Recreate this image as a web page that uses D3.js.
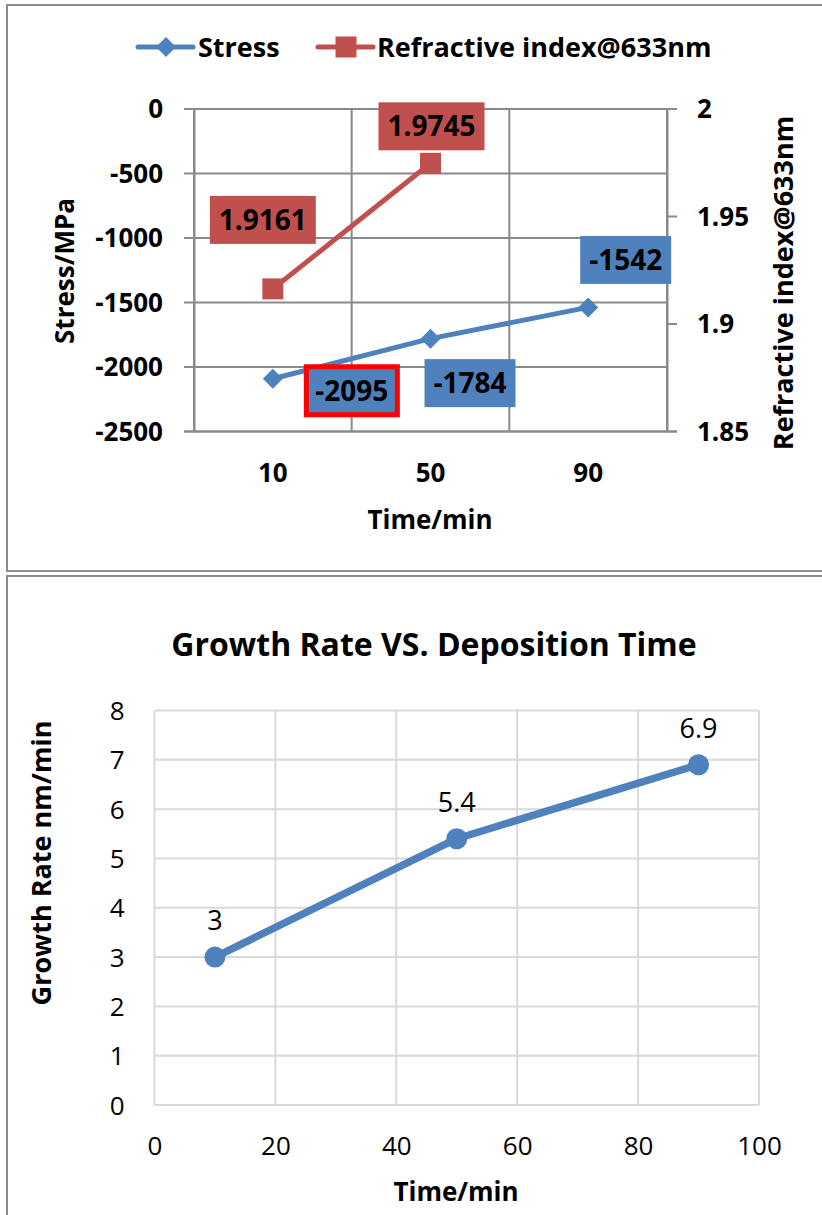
<!DOCTYPE html>
<html>
<head>
<meta charset="utf-8">
<script src="https://cdn.jsdelivr.net/npm/d3@7"></script>
<style>
  html, body { margin: 0; padding: 0; background: #fff; }
  svg { display: block; font-family: "Open Sans", "DejaVu Sans", sans-serif; }
</style>
</head>
<body>
<svg id="chart" width="822" height="1215"></svg>
<script>
// ---- Stress / refractive index vs. deposition time ----
const times = ["10", "50", "90"];
const stress = [-2095, -1784, -1542];
const refractiveTimes = ["10", "50"];
const refractive = [1.9161, 1.9745];
const stressTicks = [0, -500, -1000, -1500, -2000, -2500];
const indexTicks = [1.85, 1.9, 1.95, 2];

// ---- Growth rate vs. deposition time ----
const growthTimes = [10, 50, 90];
const growthRate = [3, 5.4, 6.9];
const rateTicks = [0, 1, 2, 3, 4, 5, 6, 7, 8];
const timeTicks = [0, 20, 40, 60, 80, 100];

const BLUE = "#4F81BD";
const RED = "#C0504D";
const GRID1 = "#8A8A8A";
const GRID2 = "#D9D9D9";
const FRAME = "#8C8C8C";

const svg = d3.select("#chart");
svg.append("rect").attr("width", 822).attr("height", 1215).attr("fill", "#fff");

// chart frames
svg.append("rect").attr("x", 7).attr("y", 5).attr("width", 830).attr("height", 566)
  .attr("fill", "none").attr("stroke", FRAME).attr("stroke-width", 2);
svg.append("rect").attr("x", 7).attr("y", 576).attr("width", 830).attr("height", 660)
  .attr("fill", "none").attr("stroke", FRAME).attr("stroke-width", 2);

// ================= Chart 1 =================
const p1 = { left: 194, right: 667, top: 108.5, bottom: 431 };
const x1 = d3.scaleBand().domain(times).range([p1.left, p1.right]).padding(0);
const yL = d3.scaleLinear().domain([-2500, 0]).range([p1.bottom, p1.top]);
const yR = d3.scaleLinear().domain([1.85, 2.0]).range([p1.bottom, p1.top]);

const g1 = svg.append("g");

// horizontal gridlines
g1.append("g")
  .attr("transform", `translate(${p1.left},0)`)
  .call(d3.axisLeft(yL).tickValues(stressTicks).tickSize(-(p1.right - p1.left)).tickFormat(""))
  .call(g => g.select(".domain").remove())
  .call(g => g.selectAll("line").attr("stroke", GRID1).attr("stroke-width", 2));

// left axis with outside ticks
g1.append("g")
  .attr("transform", `translate(${p1.left},0)`)
  .call(d3.axisLeft(yL).tickValues(stressTicks).tickSize(10).tickPadding(21).tickFormat(d => String(d)))
  .call(g => g.select(".domain").attr("stroke", GRID1).attr("stroke-width", 2))
  .call(g => g.selectAll("line").attr("stroke", GRID1).attr("stroke-width", 2))
  .call(g => g.selectAll("text").attr("font-size", 26).attr("font-weight", 700)
    .attr("fill", "#000").attr("font-family", "Open Sans").attr("dy", "0.35em"));

// vertical gridlines at category boundaries
const bounds = times.map(t => x1(t)).concat([p1.right]);
g1.append("g").selectAll("line").data(bounds).join("line")
  .attr("x1", d => d).attr("x2", d => d)
  .attr("y1", p1.top).attr("y2", p1.bottom)
  .attr("stroke", GRID1).attr("stroke-width", 2);

// right axis
g1.append("g")
  .attr("transform", `translate(${p1.right},0)`)
  .call(d3.axisRight(yR).tickValues(indexTicks).tickSize(10).tickPadding(20).tickFormat(d => String(d)))
  .call(g => g.select(".domain").attr("stroke", GRID1).attr("stroke-width", 2))
  .call(g => g.selectAll("line").attr("stroke", GRID1).attr("stroke-width", 2))
  .call(g => g.selectAll("text").attr("font-size", 26).attr("font-weight", 700)
    .attr("fill", "#000").attr("font-family", "Open Sans").attr("dy", "0.35em"));

// bottom category labels
g1.append("g")
  .attr("transform", `translate(0,${p1.bottom})`)
  .call(d3.axisBottom(x1).tickSize(0).tickFormat(d => d))
  .call(g => g.select(".domain").attr("stroke", GRID1).attr("stroke-width", 2))
  .call(g => g.selectAll("text").attr("font-size", 26).attr("font-weight", 700)
    .attr("fill", "#000").attr("font-family", "Open Sans").attr("dy", null).attr("y", 51));

// axis titles
g1.append("text").attr("x", 430).attr("y", 529).attr("text-anchor", "middle")
  .attr("font-size", 26).attr("font-weight", 700).text("Time/min");
g1.append("text").attr("transform", "translate(74,271) rotate(-90)").attr("text-anchor", "middle")
  .attr("font-size", 26).attr("font-weight", 700).text("Stress/MPa");
g1.append("text").attr("transform", "translate(793,283) rotate(-90)").attr("text-anchor", "middle")
  .attr("font-size", 27).attr("font-weight", 700).text("Refractive index@633nm");

const cx1 = t => x1(t) + x1.bandwidth() / 2;

// series lines
const stressPts = times.map((t, i) => [cx1(t), yL(stress[i])]);
const indexPts = refractiveTimes.map((t, i) => [cx1(t), yR(refractive[i])]);
g1.append("path").attr("d", d3.line()(stressPts)).attr("fill", "none")
  .attr("stroke", BLUE).attr("stroke-width", 5).attr("stroke-linejoin", "round");
g1.append("path").attr("d", d3.line()(indexPts)).attr("fill", "none")
  .attr("stroke", RED).attr("stroke-width", 5).attr("stroke-linejoin", "round");

// markers
const diamond = d3.symbol().type(d3.symbolSquare).size(200);
g1.append("g").selectAll("path").data(stressPts).join("path")
  .attr("d", diamond).attr("transform", d => `translate(${d[0]},${d[1]}) rotate(45)`)
  .attr("fill", BLUE);
const square = d3.symbol().type(d3.symbolSquare).size(441);
g1.append("g").selectAll("path").data(indexPts).join("path")
  .attr("d", square).attr("transform", d => `translate(${d[0]},${d[1]})`)
  .attr("fill", RED);

// data label boxes (offsets from each point)
const stressLabelOffset = [[79, 12], [39.5, 44.5], [37.5, -47.5]];
const indexLabelOffset = [[-10, -69], [1, -37]];

function dataLabel(px, py, off, w, h, fill, text, outline) {
  const cx = px + off[0], cy = py + off[1];
  const r = g1.append("rect").attr("x", cx - w / 2).attr("y", cy - h / 2)
    .attr("width", w).attr("height", h).attr("fill", fill);
  if (outline) r.attr("stroke", "#FF0000").attr("stroke-width", 5);
  g1.append("text").attr("x", cx).attr("y", cy + 10).attr("text-anchor", "middle")
    .attr("font-size", 28).attr("font-weight", 700).attr("fill", "#000").text(text);
}
stressPts.forEach((p, i) => dataLabel(p[0], p[1], stressLabelOffset[i], 91, 48, BLUE, String(stress[i]), i === 0));
indexPts.forEach((p, i) => dataLabel(p[0], p[1], indexLabelOffset[i], 106, 48, RED, refractive[i].toFixed(4), false));

// legend
const lg = g1.append("g");
lg.append("line").attr("x1", 138).attr("x2", 193).attr("y1", 47).attr("y2", 47)
  .attr("stroke", BLUE).attr("stroke-width", 5).attr("stroke-linecap", "round");
lg.append("path").attr("d", diamond).attr("transform", "translate(166,47) rotate(45)").attr("fill", BLUE);
lg.append("text").attr("x", 198).attr("y", 57).attr("font-size", 27).attr("font-weight", 700).text("Stress");
lg.append("line").attr("x1", 318).attr("x2", 373).attr("y1", 47).attr("y2", 47)
  .attr("stroke", RED).attr("stroke-width", 5).attr("stroke-linecap", "round");
lg.append("path").attr("d", square).attr("transform", "translate(346,47)").attr("fill", RED);
lg.append("text").attr("x", 377).attr("y", 57).attr("font-size", 27).attr("font-weight", 700).text("Refractive index@633nm");

// ================= Chart 2 =================
const p2 = { left: 154.5, right: 759, top: 710.5, bottom: 1105 };
const x2 = d3.scaleLinear().domain([0, 100]).range([p2.left, p2.right]);
const y2 = d3.scaleLinear().domain([0, 8]).range([p2.bottom, p2.top]);
const g2 = svg.append("g");

g2.append("text").attr("x", 434).attr("y", 656).attr("text-anchor", "middle")
  .attr("font-size", 32).attr("font-weight", 700).text("Growth Rate VS. Deposition Time");

// gridlines
g2.append("g").selectAll("line").data(rateTicks).join("line")
  .attr("x1", p2.left).attr("x2", p2.right).attr("y1", d => y2(d)).attr("y2", d => y2(d))
  .attr("stroke", GRID2).attr("stroke-width", 2);
g2.append("g").selectAll("line").data(timeTicks).join("line")
  .attr("x1", d => x2(d)).attr("x2", d => x2(d)).attr("y1", p2.top).attr("y2", p2.bottom)
  .attr("stroke", GRID2).attr("stroke-width", 2);

g2.append("g")
  .attr("transform", `translate(${p2.left},0)`)
  .call(d3.axisLeft(y2).tickValues(rateTicks).tickSize(0).tickPadding(30).tickFormat(d => String(d)))
  .call(g => g.select(".domain").remove())
  .call(g => g.selectAll("text").attr("font-size", 26).attr("fill", "#000")
    .attr("font-family", "Open Sans").attr("dy", "0.35em"));

g2.append("g")
  .attr("transform", `translate(0,${p2.bottom})`)
  .call(d3.axisBottom(x2).tickValues(timeTicks).tickSize(0).tickFormat(d => String(d)))
  .call(g => g.select(".domain").remove())
  .call(g => g.selectAll("text").attr("font-size", 26).attr("fill", "#000")
    .attr("font-family", "Open Sans").attr("dy", null).attr("y", 50));

g2.append("text").attr("x", 456).attr("y", 1201).attr("text-anchor", "middle")
  .attr("font-size", 26).attr("font-weight", 700).text("Time/min");
g2.append("text").attr("transform", "translate(51,863) rotate(-90)").attr("text-anchor", "middle")
  .attr("font-size", 27).attr("font-weight", 700).text("Growth Rate nm/min");

const growthPts = growthTimes.map((t, i) => [x2(t), y2(growthRate[i])]);
g2.append("path").attr("d", d3.line()(growthPts)).attr("fill", "none")
  .attr("stroke", BLUE).attr("stroke-width", 7.5).attr("stroke-linejoin", "round");
g2.append("g").selectAll("circle").data(growthPts).join("circle")
  .attr("cx", d => d[0]).attr("cy", d => d[1]).attr("r", 10.5).attr("fill", BLUE);
g2.append("g").selectAll("text").data(growthPts).join("text")
  .attr("x", d => d[0]).attr("y", d => d[1] - 27).attr("text-anchor", "middle")
  .attr("font-size", 27).attr("fill", "#000").text((d, i) => String(growthRate[i]));
</script>
</body>
</html>
